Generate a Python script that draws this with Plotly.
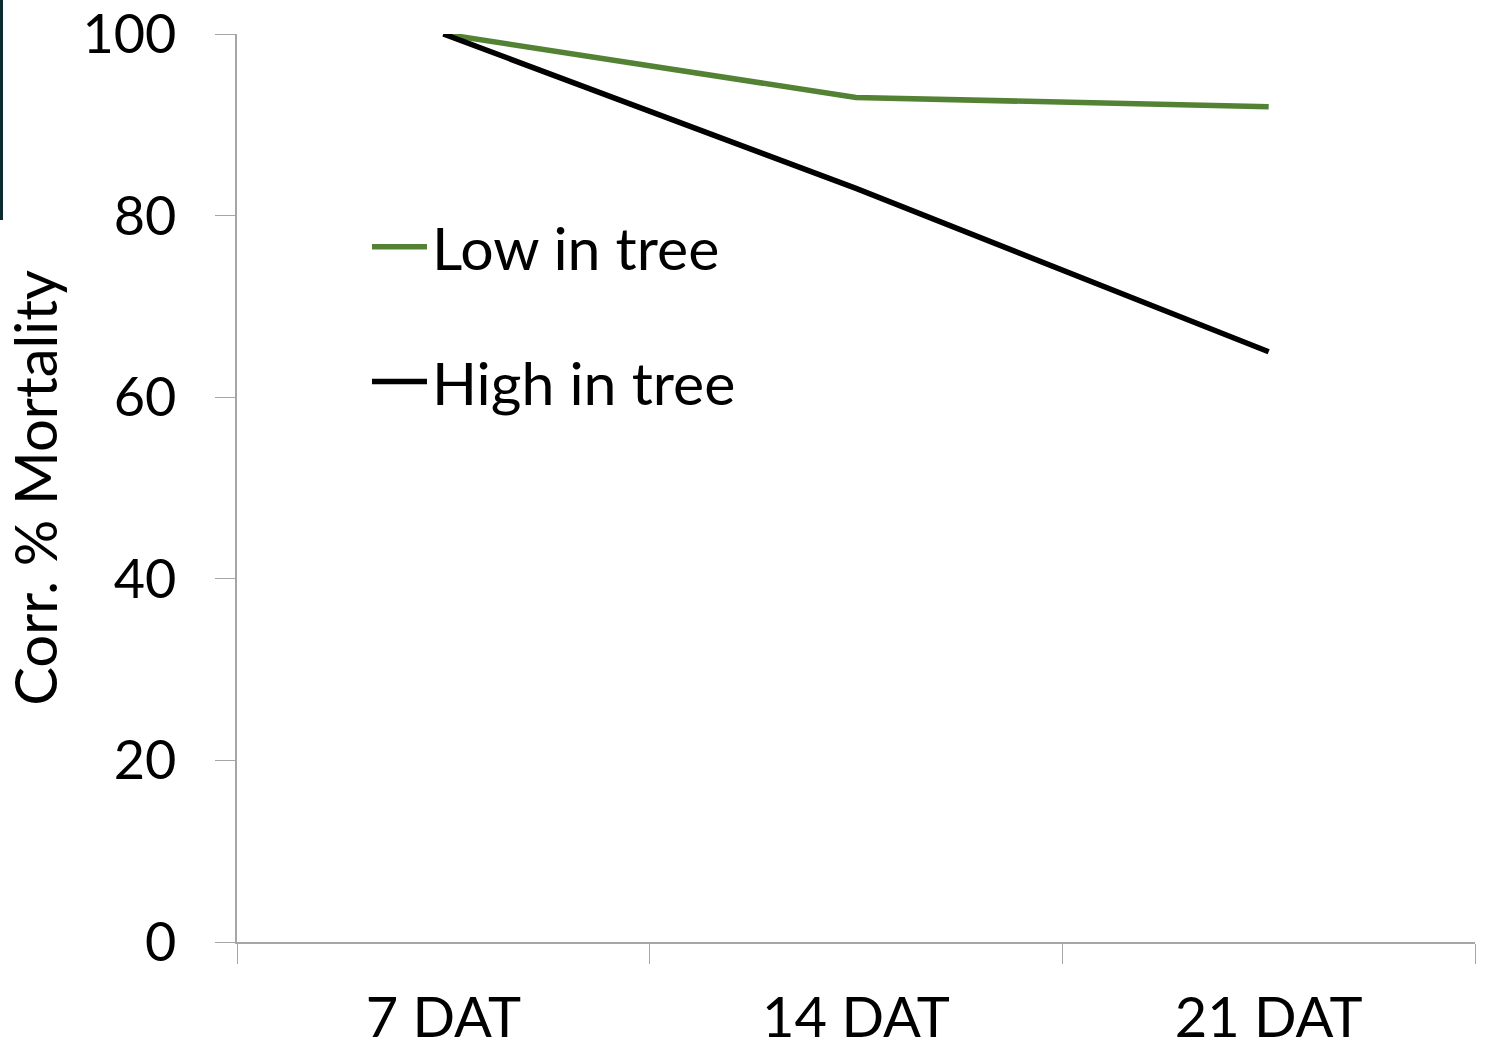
import plotly.graph_objects as go

# Days after treatment and corrected mortality (%) by canopy position
categories = ["7 DAT", "14 DAT", "21 DAT"]
low_in_tree = [100, 93, 92]
high_in_tree = [100, 83, 65]
y_ticks = [0, 20, 40, 60, 80, 100]

FONT = "Lato"
AXIS_GREY = "#a6a6a6"

fig = go.Figure()
fig.add_trace(go.Scatter(
    x=categories, y=low_in_tree, mode="lines", name="Low in tree",
    legendgroup="low", line=dict(color="#548235", width=5.5),
))
fig.add_trace(go.Scatter(
    x=categories, y=high_in_tree, mode="lines", name="High in tree",
    legendgroup="high", line=dict(color="#000000", width=5.5),
))

fig.update_layout(
    width=1485, height=1050,
    margin=dict(l=237, r=10, t=34, b=108, autoexpand=False),
    paper_bgcolor="white", plot_bgcolor="white",
    font=dict(family=FONT, size=56, color="black"),
    showlegend=True,
    legend=dict(
        x=0.105, y=0.815, xanchor="left", yanchor="top",
        bgcolor="rgba(0,0,0,0)", tracegroupgap=55,
        font=dict(family=FONT, size=59, color="black"),
        itemwidth=55,
    ),
    xaxis=dict(
        type="category", tickson="boundaries", ticks="outside", ticklen=20,
        tickcolor=AXIS_GREY, showline=True, linecolor=AXIS_GREY, linewidth=1.5,
        showgrid=False, zeroline=False, range=[-0.5, 2.5], automargin=False,
        ticklabelstandoff=26, ticklabeloverflow="allow",
        tickfont=dict(family=FONT, size=56, color="black"),
    ),
    yaxis=dict(
        range=[0, 100], tickmode="array", tickvals=y_ticks,
        ticks="outside", ticklen=20, tickcolor=AXIS_GREY,
        showline=True, linecolor=AXIS_GREY, linewidth=1.5,
        showgrid=False, zeroline=False, automargin=False,
        ticklabelstandoff=28, ticklabeloverflow="allow",
        tickfont=dict(family=FONT, size=54, color="black"),
        title=dict(text="Corr. % Mortality", standoff=36,
                   font=dict(family=FONT, size=58, color="black")),
    ),
    shapes=[dict(
        type="rect", xref="paper", yref="paper",
        x0=-237 / 1238, x1=-234 / 1238,
        y0=(908 - 220 + 34) / 908, y1=(908 + 34) / 908,
        fillcolor="#0d2b2e", line=dict(width=0), layer="above",
    )],
)

fig.write_html("out.html")
